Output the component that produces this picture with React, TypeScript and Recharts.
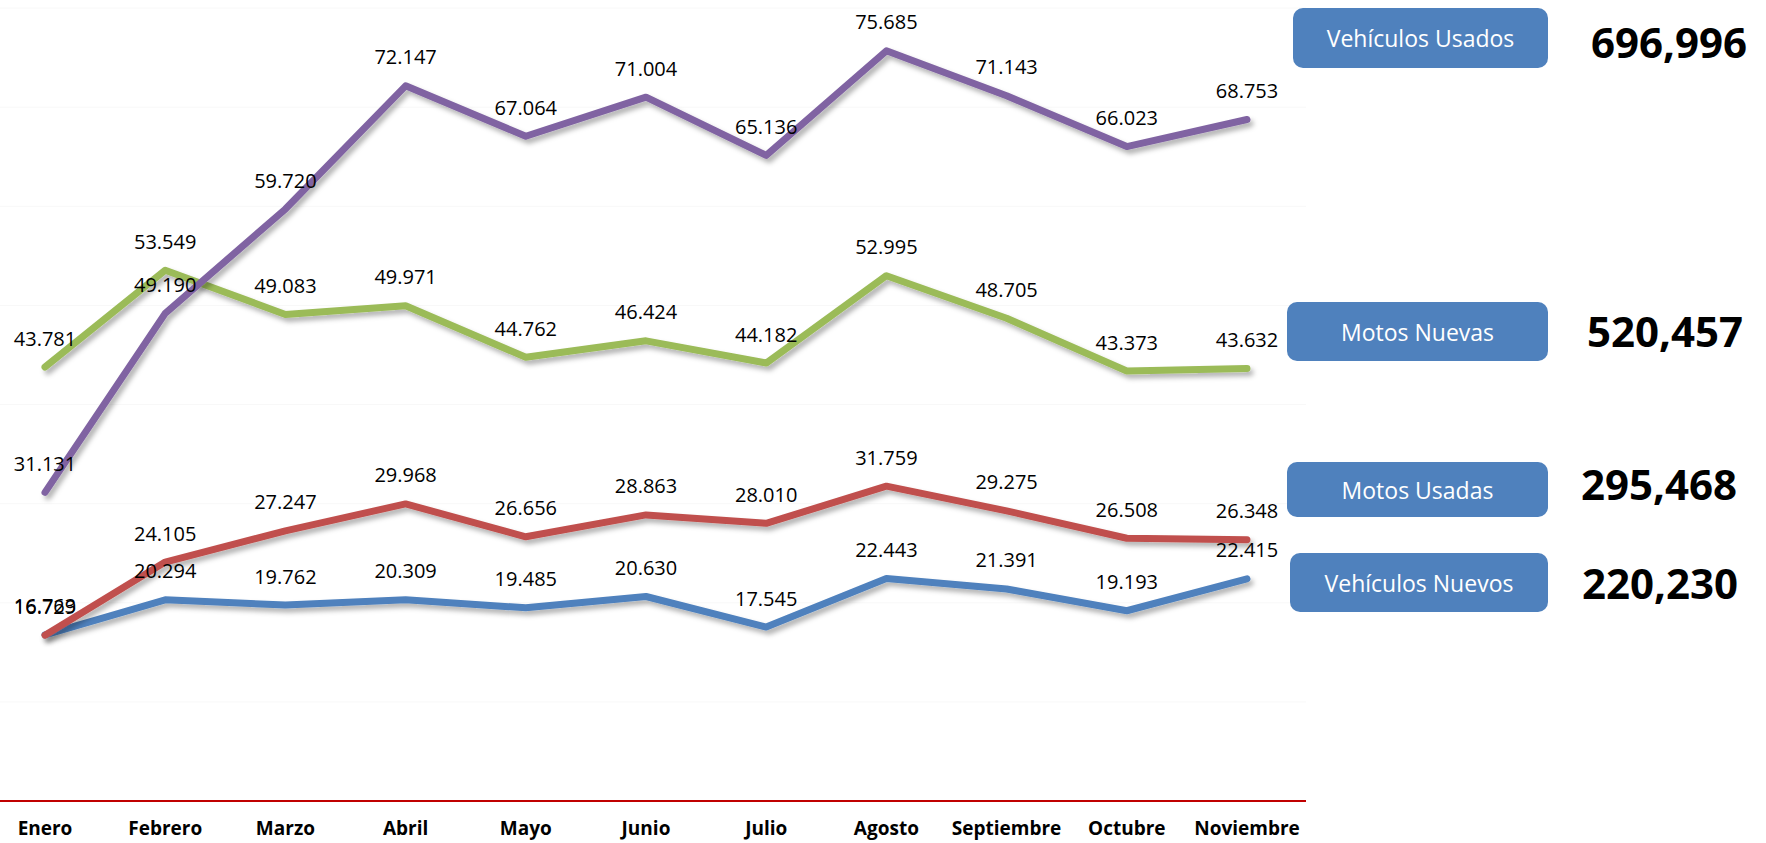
import { CartesianGrid, LabelList, Line, LineChart, XAxis, YAxis } from "recharts";

const months = ["Enero", "Febrero", "Marzo", "Abril", "Mayo", "Junio", "Julio", "Agosto", "Septiembre", "Octubre", "Noviembre"];

// miles de unidades por mes
const vehiculosUsados = [31.131, 49.19, 59.72, 72.147, 67.064, 71.004, 65.136, 75.685, 71.143, 66.023, 68.753];
const motosNuevas = [43.781, 53.549, 49.083, 49.971, 44.762, 46.424, 44.182, 52.995, 48.705, 43.373, 43.632];
const motosUsadas = [16.729, 24.105, 27.247, 29.968, 26.656, 28.863, 28.01, 31.759, 29.275, 26.508, 26.348];
const vehiculosNuevos = [16.763, 20.294, 19.762, 20.309, 19.485, 20.63, 17.545, 22.443, 21.391, 19.193, 22.415];

const seriesNames = ["Vehículos Usados", "Motos Nuevas", "Motos Usadas", "Vehículos Nuevos"];
const totals = [696996, 520457, 295468, 220230];

const yTicks = [0, 10, 20, 30, 40, 50, 60, 70, 80];

const data = months.map((m, i) => ({
  month: m,
  vu: vehiculosUsados[i],
  mn: motosNuevas[i],
  mu: motosUsadas[i],
  vn: vehiculosNuevos[i],
}));

const FONT = "'Open Sans', 'Noto Sans', sans-serif";

// cajas a la derecha (posición en px)
const boxLayout = [
  { left: 1293, top: 8, width: 255, height: 60, numCx: 1669, numCy: 42 },
  { left: 1287, top: 302, width: 261, height: 59, numCx: 1665, numCy: 331 },
  { left: 1287, top: 462, width: 261, height: 55, numCx: 1659, numCy: 484 },
  { left: 1290, top: 553, width: 258, height: 59, numCx: 1660, numCy: 583 },
];

const renderLabel = (props: any) => {
  const { x, y, value } = props;
  return (
    <text x={x} y={y - 29} textAnchor="middle" dominantBaseline="central" fontSize={20} fill="#000" fontFamily={FONT}>
      {Number(value).toFixed(3)}
    </text>
  );
};

const MonthTick = (props: any) => {
  const { x, y, payload } = props;
  return (
    <text x={x} y={y + 27} textAnchor="middle" dominantBaseline="central" fontSize={19} fontWeight={700} fill="#000" fontFamily={FONT}>
      {payload.value}
    </text>
  );
};

export default function App() {
  const lines = [
    { key: "vn", color: "#4f81bd" },
    { key: "mu", color: "#c0504d" },
    { key: "mn", color: "#9bbb59" },
    { key: "vu", color: "#8064a2" },
  ];
  return (
    <div style={{ position: "absolute", left: 0, top: 0, width: 1766, height: 843, background: "#fff", fontFamily: FONT }}>
      <LineChart width={1306} height={843} data={data} margin={{ top: 8, right: 0, left: 0, bottom: 12 }}>
        <defs>
          <filter id="lineShadow" x="-5%" y="-20%" width="110%" height="140%">
            <feDropShadow dx="3" dy="4" stdDeviation="2.5" floodColor="#000" floodOpacity="0.3" />
          </filter>
        </defs>
        <CartesianGrid vertical={false} stroke="#f8f8f8" />
        <XAxis
          dataKey="month"
          height={30}
          padding={{ left: 45, right: 59 }}
          axisLine={{ stroke: "#c00000", strokeWidth: 2 }}
          tickLine={false}
          tickSize={0}
          tickMargin={0}
          interval={0}
          tick={<MonthTick />}
        />
        <YAxis hide domain={[0, 80]} ticks={yTicks} />
        {lines.map((l) => (
          <Line
            key={l.key}
            type="linear"
            dataKey={l.key}
            stroke={l.color}
            strokeWidth={7}
            strokeLinejoin="round"
            strokeLinecap="round"
            dot={false}
            activeDot={false}
            filter="url(#lineShadow)"
            isAnimationActive={false}
          >
            <LabelList dataKey={l.key} content={renderLabel} />
          </Line>
        ))}
      </LineChart>
      {seriesNames.map((name, i) => {
        const b = boxLayout[i];
        return (
          <div key={name}>
            <div
              style={{
                position: "absolute",
                left: b.left,
                top: b.top,
                width: b.width,
                height: b.height,
                background: "#4f81bd",
                borderRadius: 10,
                color: "#fff",
                fontSize: 23,
                display: "flex",
                alignItems: "center",
                justifyContent: "center",
              }}
            >
              {name}
            </div>
            <div
              style={{
                position: "absolute",
                left: b.numCx - 110,
                top: b.numCy - 30,
                width: 220,
                height: 60,
                lineHeight: "60px",
                textAlign: "center",
                fontSize: 42,
                fontWeight: 700,
                color: "#000",
              }}
            >
              {totals[i].toLocaleString("en-US")}
            </div>
          </div>
        );
      })}
    </div>
  );
}
